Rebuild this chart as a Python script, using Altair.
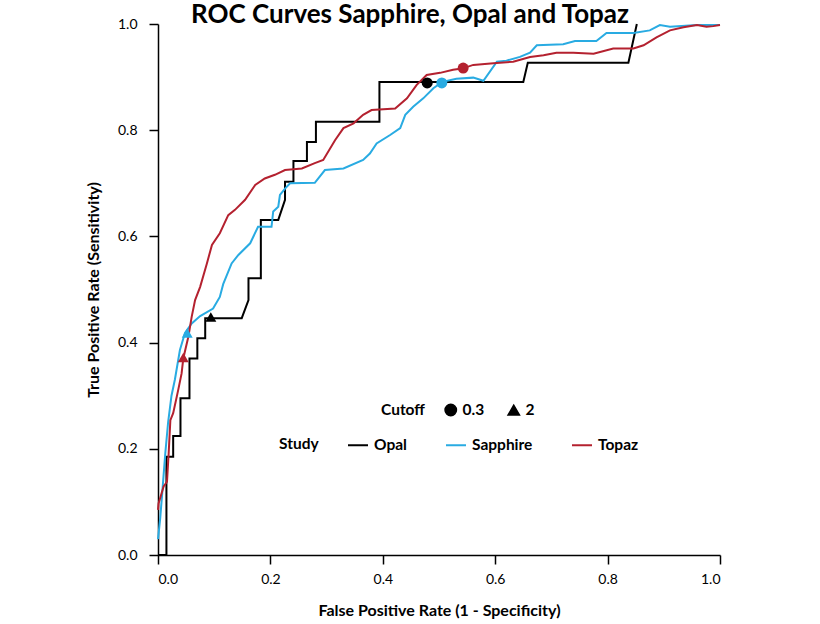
import altair as alt
import pandas as pd

FONT = "Lato"

studies = ["Opal", "Sapphire", "Topaz"]
study_colors = ["#000000", "#29abe2", "#b4212f"]

opal_fpr = [0.000, 0.015, 0.015, 0.027, 0.027, 0.040, 0.040, 0.056, 0.056, 0.070, 0.070,
            0.084, 0.084, 0.149, 0.161, 0.161, 0.183, 0.183, 0.214, 0.226, 0.226, 0.241,
            0.241, 0.265, 0.265, 0.281, 0.281, 0.394, 0.394, 0.650, 0.658, 0.837, 0.852]
opal_tpr = [0.000, 0.000, 0.185, 0.185, 0.224, 0.224, 0.295, 0.295, 0.370, 0.370, 0.408,
            0.408, 0.446, 0.446, 0.480, 0.521, 0.521, 0.631, 0.631, 0.669, 0.703, 0.703,
            0.742, 0.742, 0.778, 0.778, 0.816, 0.816, 0.891, 0.891, 0.927, 0.927, 1.000]

sapphire_fpr = [0.000, 0.004, 0.007, 0.013, 0.018, 0.024, 0.030, 0.039, 0.048, 0.060, 0.075,
                0.098, 0.110, 0.116, 0.131, 0.143, 0.164, 0.178, 0.202, 0.205, 0.214, 0.217,
                0.226, 0.235, 0.279, 0.297, 0.330, 0.365, 0.377, 0.389, 0.413, 0.431, 0.440,
                0.454, 0.472, 0.490, 0.506, 0.531, 0.561, 0.579, 0.603, 0.620, 0.644, 0.662,
                0.674, 0.721, 0.742, 0.780, 0.798, 0.846, 0.875, 0.893, 0.911, 0.959, 1.000]
sapphire_tpr = [0.030, 0.070, 0.110, 0.192, 0.250, 0.300, 0.330, 0.386, 0.418, 0.436, 0.450,
                0.464, 0.486, 0.510, 0.549, 0.565, 0.587, 0.618, 0.618, 0.647, 0.656, 0.678,
                0.690, 0.700, 0.701, 0.725, 0.728, 0.744, 0.756, 0.775, 0.791, 0.804, 0.829,
                0.844, 0.860, 0.879, 0.891, 0.897, 0.899, 0.893, 0.929, 0.931, 0.938, 0.946,
                0.960, 0.962, 0.968, 0.968, 0.983, 0.983, 0.988, 0.998, 0.995, 0.998, 0.998]

topaz_fpr = [0.000, 0.001, 0.010, 0.016, 0.019, 0.022, 0.027, 0.036, 0.042, 0.045, 0.054,
             0.060, 0.066, 0.075, 0.087, 0.096, 0.110, 0.125, 0.137, 0.155, 0.173, 0.190,
             0.208, 0.226, 0.256, 0.279, 0.294, 0.315, 0.330, 0.348, 0.365, 0.380, 0.422,
             0.443, 0.460, 0.478, 0.502, 0.525, 0.541, 0.561, 0.597, 0.632, 0.662, 0.686,
             0.709, 0.739, 0.775, 0.810, 0.846, 0.864, 0.887, 0.911, 0.935, 0.959, 0.976,
             0.988, 1.000]
topaz_tpr = [0.085, 0.097, 0.129, 0.138, 0.192, 0.254, 0.267, 0.311, 0.342, 0.370, 0.411,
             0.449, 0.480, 0.505, 0.549, 0.584, 0.606, 0.640, 0.650, 0.669, 0.697, 0.709,
             0.716, 0.725, 0.728, 0.738, 0.744, 0.781, 0.804, 0.813, 0.829, 0.838, 0.841,
             0.860, 0.885, 0.904, 0.908, 0.914, 0.916, 0.923, 0.926, 0.929, 0.938, 0.941,
             0.946, 0.946, 0.944, 0.954, 0.954, 0.960, 0.975, 0.988, 0.994, 0.998, 0.995,
             0.996, 0.998]

marker_study = ["Opal", "Sapphire", "Topaz", "Opal", "Sapphire", "Topaz"]
marker_cutoff = ["0.3", "0.3", "0.3", "2", "2", "2"]
marker_fpr = [0.479, 0.505, 0.543, 0.094, 0.052, 0.045]
marker_tpr = [0.889, 0.889, 0.917, 0.448, 0.418, 0.372]

rows = []
for name, xs, ys in [("Opal", opal_fpr, opal_tpr),
                     ("Sapphire", sapphire_fpr, sapphire_tpr),
                     ("Topaz", topaz_fpr, topaz_tpr)]:
    for i, (a, b) in enumerate(zip(xs, ys)):
        rows.append({"Study": name, "fpr": a, "tpr": b, "idx": i})
curves = pd.DataFrame(rows)
markers = pd.DataFrame({"Study": marker_study, "Cutoff": marker_cutoff,
                        "fpr": marker_fpr, "tpr": marker_tpr})

xenc = alt.X("fpr:Q", scale=alt.Scale(domain=[0, 1], nice=False, zero=False),
             axis=alt.Axis(title="False Positive Rate (1 - Specificity)",
                           values=[0, 0.2, 0.4, 0.6, 0.8, 1.0], format=".1f"))
yenc = alt.Y("tpr:Q", scale=alt.Scale(domain=[0, 1], nice=False, zero=False),
             axis=alt.Axis(title="True Positive Rate (Sensitivity)",
                           values=[0, 0.2, 0.4, 0.6, 0.8, 1.0], format=".1f"))

study_legend = alt.Legend(orient="none", direction="horizontal", titleOrient="left",
                          legendX=121, legendY=410, symbolType="stroke",
                          symbolSize=400, symbolStrokeWidth=2, columnPadding=35,
                          titlePadding=28, labelOffset=5)
color = alt.Color("Study:N", scale=alt.Scale(domain=studies, range=study_colors),
                  legend=study_legend)

lines = alt.Chart(curves).mark_line(strokeWidth=2).encode(
    x=xenc, y=yenc, color=color, order="idx:Q")

points = alt.Chart(markers).mark_point(filled=True, size=120, opacity=1).encode(
    x="fpr:Q", y="tpr:Q", color=color,
    shape=alt.Shape("Cutoff:N",
                    scale=alt.Scale(domain=["0.3", "2"], range=["circle", "triangle-up"]),
                    legend=alt.Legend(orient="none", direction="horizontal",
                                      titleOrient="left", legendX=223, legendY=378,
                                      symbolFillColor="black", symbolStrokeColor="black",
                                      symbolSize=130, columnPadding=20, titlePadding=18,
                                      labelOffset=4)))

chart = alt.layer(lines, points).properties(
    width=562, height=531,
    autosize=alt.AutoSizeParams(type="none"),
    padding={"left": 158, "top": 24, "right": 100, "bottom": 69},
    title=alt.TitleParams("ROC Curves Sapphire, Opal and Topaz", fontSize=26,
                          font=FONT, fontWeight="bold", color="black",
                          anchor="middle", frame="group", baseline="top",
                          offset=0, dx=-29, dy=11),
    background="white",
).configure_view(stroke=None).configure_axis(
    grid=False, domainColor="black", tickColor="black", domainWidth=1.5, tickWidth=1.5,
    tickSize=9, labelFont=FONT, labelFontSize=14, labelColor="black",
    titleFont=FONT, titleFontSize=16, titleFontWeight="bold", titleColor="black",
).configure_axisX(labelPadding=8, titlePadding=16).configure_axisY(
    labelPadding=12, titlePadding=16).configure_legend(
    labelFont=FONT, labelFontSize=15.5, labelFontWeight="bold", labelColor="black",
    titleFont=FONT, titleFontSize=15.5, titleFontWeight="bold", titleColor="black",
)

chart.save("out.html", embed_options={"renderer": "svg", "actions": False})
